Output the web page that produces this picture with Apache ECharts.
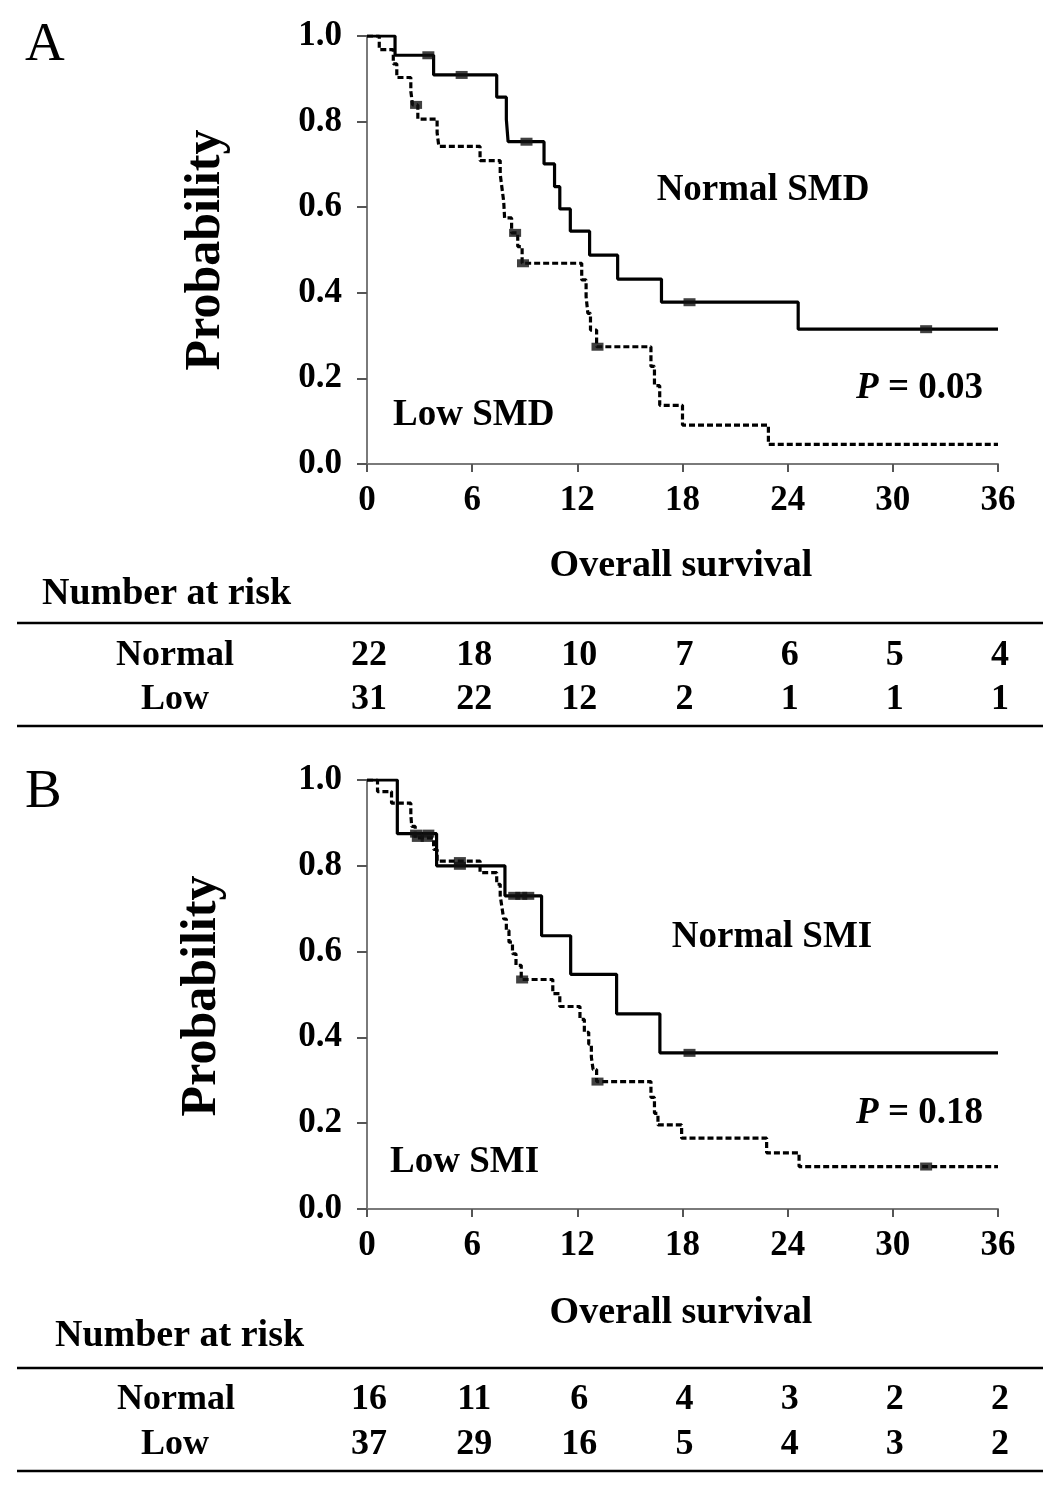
<!DOCTYPE html>
<html>
<head>
<meta charset="utf-8">
<script src="https://cdn.jsdelivr.net/npm/echarts@6/dist/echarts.min.js"></script>
<style>
html,body{margin:0;padding:0;background:#fff;}
#chart{width:1063px;height:1494px;}
</style>
</head>
<body>
<div id="chart"></div>
<script>
// time points for the risk table (months)
var riskTimes = [0, 6, 12, 18, 24, 30, 36];

// panel A - SMD, steps as [month, survival]
var normalSmd = [[0,1],[1.6,0.955],[3.8,0.909],[7.4,0.857],[7.95,0.805],[8.05,0.753],[10.1,0.701],[10.7,0.648],[11.0,0.596],[11.6,0.544],[12.7,0.488],[14.3,0.432],[16.8,0.378],[24.6,0.315],[36,0.315]];
var normalSmdCens = [[3.5,0.955],[5.4,0.909],[9.1,0.753],[18.4,0.378],[31.9,0.315]];
var lowSmd = [[0,1],[0.7,0.968],[1.5,0.935],[1.7,0.903],[2.5,0.871],[2.6,0.839],[2.9,0.806],[4.0,0.774],[4.1,0.742],[6.45,0.709],[7.6,0.677],[7.7,0.645],[7.8,0.613],[7.85,0.575],[8.25,0.540],[8.6,0.508],[8.85,0.469],[12.25,0.430],[12.5,0.391],[12.6,0.352],[12.75,0.313],[13.1,0.274],[16.2,0.228],[16.4,0.183],[16.7,0.137],[18.0,0.091],[22.9,0.046],[36,0.046]];
var lowSmdCens = [[2.8,0.839],[8.45,0.540],[8.9,0.469],[13.15,0.274]];

// panel B - SMI
var normalSmi = [[0,1],[1.73,0.875],[3.97,0.80],[7.87,0.73],[9.96,0.637],[11.62,0.547],[14.24,0.455],[16.71,0.364],[36,0.364]];
var normalSmiCens = [[2.8,0.875],[3.5,0.875],[5.3,0.80],[8.4,0.73],[8.8,0.73],[9.2,0.73],[18.4,0.364]];
var lowSmi = [[0,1],[0.6,0.973],[1.4,0.946],[2.5,0.919],[2.55,0.892],[2.75,0.865],[3.8,0.838],[4.0,0.811],[6.45,0.784],[7.4,0.757],[7.6,0.730],[7.7,0.703],[7.8,0.676],[7.95,0.649],[8.1,0.622],[8.3,0.595],[8.5,0.568],[8.8,0.535],[10.6,0.502],[11.0,0.472],[12.15,0.442],[12.4,0.412],[12.65,0.384],[12.8,0.354],[12.9,0.325],[13.1,0.297],[16.2,0.260],[16.4,0.223],[16.6,0.196],[17.95,0.165],[22.8,0.131],[24.65,0.099],[36,0.099]];
var lowSmiCens = [[2.9,0.865],[3.4,0.865],[5.3,0.811],[8.85,0.535],[13.15,0.297],[31.9,0.099]];

// numbers at risk
var riskNormalSmd = [22, 18, 10, 7, 6, 5, 4];
var riskLowSmd = [31, 22, 12, 2, 1, 1, 1];
var riskNormalSmi = [16, 11, 6, 4, 3, 2, 2];
var riskLowSmi = [37, 29, 16, 5, 4, 3, 2];

var FONT = '"Liberation Serif", "Times New Roman", serif';

var chart = echarts.init(document.getElementById('chart'));

function xAx(g) {
    return {
        gridIndex: g, type: 'value', min: 0, max: 36, interval: 6,
        axisLine: {show: true, lineStyle: {color: '#7a7a7a', width: 2}},
        axisTick: {show: true, length: 8, lineStyle: {color: '#555', width: 2}},
        axisLabel: {fontFamily: FONT, fontWeight: 'bold', fontSize: 35, color: '#000', margin: 19},
        splitLine: {show: false}
    };
}
function yAx(g) {
    return {
        gridIndex: g, type: 'value', min: 0, max: 1, interval: 0.2,
        axisLine: {show: true, lineStyle: {color: '#7a7a7a', width: 2}},
        axisTick: {show: true, length: 10, lineStyle: {color: '#555', width: 2}},
        axisLabel: {fontFamily: FONT, fontWeight: 'bold', fontSize: 35, color: '#000', margin: 25,
            padding: [8, 0, 0, 0],
            formatter: function (v) { return v.toFixed(1); }},
        splitLine: {show: false}
    };
}
function curve(data, g, dashed) {
    return {
        type: 'line', xAxisIndex: g, yAxisIndex: g, data: data, step: 'end',
        showSymbol: false, silent: true, animation: false,
        lineStyle: {color: '#000', width: 3.2, type: dashed ? [6, 3] : 'solid'}
    };
}
function cens(data, g) {
    return {
        type: 'scatter', xAxisIndex: g, yAxisIndex: g, data: data,
        symbol: 'rect', symbolSize: [12, 8], silent: true, animation: false,
        itemStyle: {color: '#111'}, z: 5
    };
}

chart.setOption({
    backgroundColor: '#fff',
    animation: false,
    grid: [
        {left: 367, width: 631, top: 36, height: 428},
        {left: 367, width: 631, top: 780, height: 429}
    ],
    xAxis: [xAx(0), xAx(1)],
    yAxis: [yAx(0), yAx(1)],
    series: [
        curve(normalSmd, 0, false), curve(lowSmd, 0, true),
        cens(normalSmdCens, 0), cens(lowSmdCens, 0),
        curve(normalSmi, 1, false), curve(lowSmi, 1, true),
        cens(normalSmiCens, 1), cens(lowSmiCens, 1)
    ]
});

function txt(s, x, y, size, opts) {
    opts = opts || {};
    return {
        type: 'text', x: x, y: y, rotation: opts.rot || 0, silent: true,
        style: {
            text: s, fontFamily: FONT, fontSize: size,
            fontWeight: opts.normal ? 'normal' : 'bold',
            fill: '#000', align: opts.align || 'left', verticalAlign: 'middle',
            rich: opts.rich
        }
    };
}
function hline(y) {
    return {type: 'line', silent: true, shape: {x1: 17, y1: y, x2: 1043, y2: y},
        style: {stroke: '#000', lineWidth: 2.5}};
}
var pRich = {i: {fontFamily: FONT, fontSize: 37, fontWeight: 'bold', fontStyle: 'italic'}};

var els = [
    txt('A', 25, 46, 55, {normal: true}),
    txt('B', 25, 793, 55, {normal: true}),
    txt('Probability', 206, 250, 50, {rot: Math.PI / 2, align: 'center'}),
    txt('Probability', 202, 996, 50, {rot: Math.PI / 2, align: 'center'}),
    txt('Normal SMD', 763, 190, 37, {align: 'center'}),
    txt('Low SMD', 393, 415, 37),
    txt('{i|P} = 0.03', 983, 388, 37, {align: 'right', rich: pRich}),
    txt('Normal SMI', 772, 937, 37, {align: 'center'}),
    txt('Low SMI', 390, 1162, 37),
    txt('{i|P} = 0.18', 983, 1113, 37, {align: 'right', rich: pRich}),
    txt('Overall survival', 681, 566, 38, {align: 'center'}),
    txt('Overall survival', 681, 1313, 38, {align: 'center'}),
    txt('Number at risk', 42, 594, 38),
    txt('Number at risk', 55, 1336, 38),
    hline(623), hline(726), hline(1368), hline(1471),
    txt('Normal', 175, 656, 36, {align: 'center'}),
    txt('Low', 175, 700, 36, {align: 'center'}),
    txt('Normal', 176, 1400, 36, {align: 'center'}),
    txt('Low', 175, 1445, 36, {align: 'center'})
];

// risk table numbers placed under the x axis ticks
for (var i = 0; i < riskTimes.length; i++) {
    var xa = chart.convertToPixel({xAxisIndex: 0}, riskTimes[i]);
    var xb = chart.convertToPixel({xAxisIndex: 1}, riskTimes[i]);
    els.push(txt(String(riskNormalSmd[i]), xa + 2, 656, 36, {align: 'center'}));
    els.push(txt(String(riskLowSmd[i]), xa + 2, 700, 36, {align: 'center'}));
    els.push(txt(String(riskNormalSmi[i]), xb + 2, 1400, 36, {align: 'center'}));
    els.push(txt(String(riskLowSmi[i]), xb + 2, 1445, 36, {align: 'center'}));
}

chart.setOption({graphic: els});
</script>
</body>
</html>
